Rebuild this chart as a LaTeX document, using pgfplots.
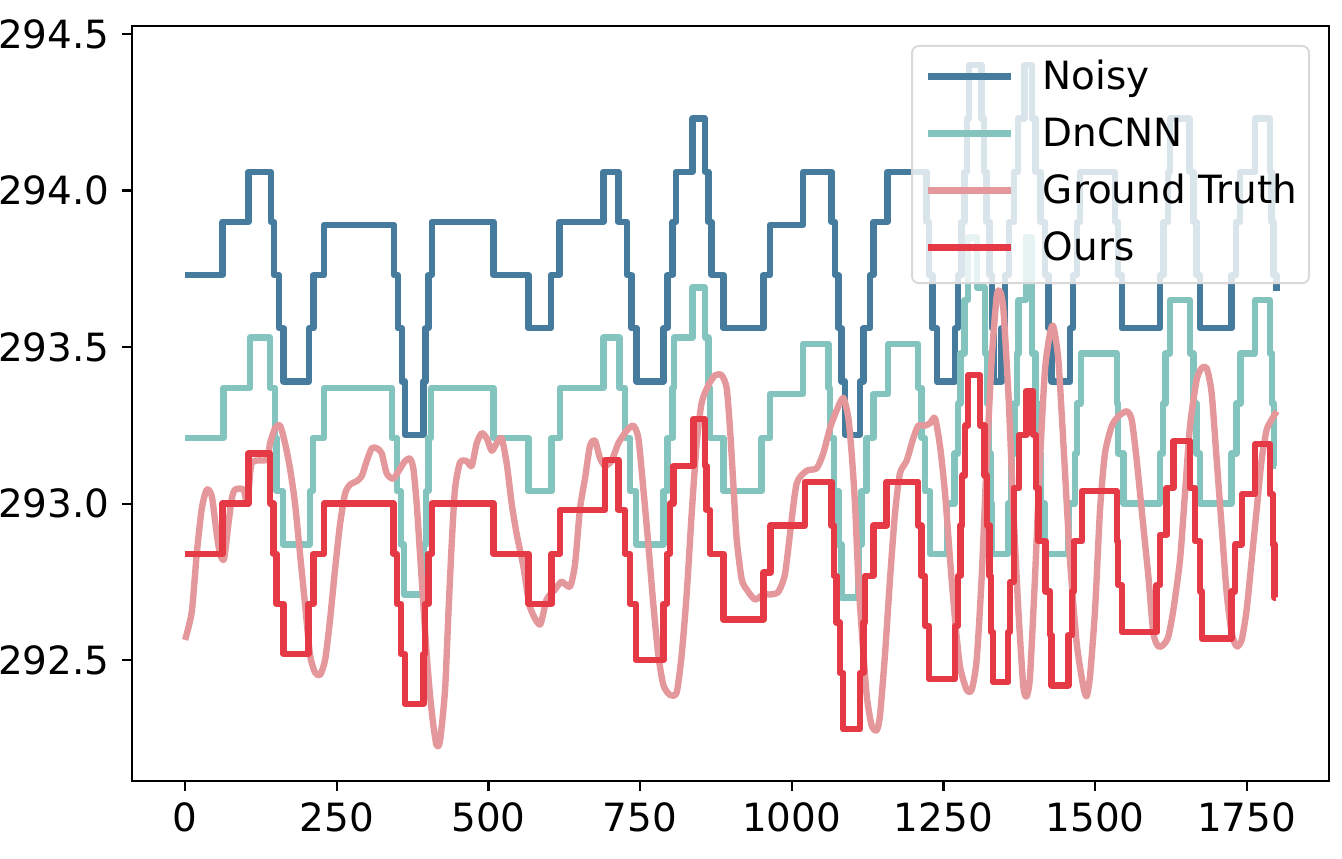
\documentclass[border=0pt]{standalone}
\usepackage{fontspec}
\setmainfont{DejaVu Sans}
\usepackage{pgfplots}
\pgfplotsset{compat=1.18}
\definecolor{cnoisy}{HTML}{457B9D}
\definecolor{cdncnn}{HTML}{83C5BE}
\definecolor{cgt}{HTML}{E5989B}
\definecolor{cours}{HTML}{E63946}
\begin{document}
\begin{tikzpicture}
\begin{axis}[
  scale only axis, width=431.1pt, height=271.7pt,
  xmin=-88, xmax=1886, ymin=292.115, ymax=294.525,
  xtick={0,250,500,750,1000,1250,1500,1750},
  ytick={292.5,293,293.5,294,294.5},
  scaled ticks=false,
  /pgf/number format/assume math mode=true,
  xticklabel style={/pgf/number format/1000 sep={}, anchor=north, inner sep=0pt, text height=10.2pt, text depth=0pt, yshift=-4.5pt},
  yticklabel style={/pgf/number format/.cd, fixed, fixed zerofill, precision=1, 1000 sep={}, /tikz/.cd, anchor=east, inner sep=0pt, xshift=-4.3pt},
  ticklabel style={font=\fontsize{14}{16.5}\selectfont},
  tick align=outside, major tick length=3.5pt,
  xtick pos=bottom, ytick pos=left,
  tick style={black, line width=0.8pt},
  axis line style={black, line width=0.8pt},
  every axis plot/.append style={line width=2.3pt, line join=round},
  legend style={at={(1,1)}, anchor=north east, xshift=-6.9pt, yshift=-6.8pt,
    draw=black!15, line width=0.7pt, rounded corners=2.5pt, fill=white, fill opacity=0.8, draw opacity=1, text opacity=1,
    font=\fontsize{14}{16.5}\selectfont, inner xsep=4.4pt, inner ysep=5.4pt, row sep=7.4pt, column sep=10.2pt,
    nodes={inner sep=0pt, text height=10.2pt, text depth=2.9pt}},
  legend cell align=left,
  legend image code/.code={\draw[#1, line width=2.5pt] (0pt,1pt) -- (30pt,1pt);},
]
\addplot[cnoisy, const plot] table {
0 293.73
62 293.90
104.4 294.06
141.2 293.90
146.7 293.73
155 293.56
162 293.39
204.4 293.56
211.5 293.73
229.1 293.89
344.5 293.73
350.5 293.56
357.1 293.39
362.6 293.22
392.8 293.39
396 293.56
401 293.73
406.6 293.90
508.2 293.73
566 293.56
602.7 293.73
617 293.90
689.5 294.06
714.2 293.90
728 293.73
736.2 293.56
744.4 293.39
788.4 293.56
795 293.73
803.7 293.90
809.2 294.06
836.7 294.23
857 294.06
862.5 293.90
868 293.73
887.3 293.56
953.2 293.73
964.2 293.89
1019 294.06
1065.8 293.90
1071.3 293.73
1076.8 293.56
1082.3 293.39
1087.8 293.22
1112.5 293.39
1118 293.56
1129 293.73
1134.5 293.90
1157.6 294.06
1222.4 293.90
1226 293.73
1232 293.56
1239 293.39
1269 293.56
1274 293.73
1280 293.90
1285 294.06
1289 294.23
1292 294.40
1313 294.23
1317 294.06
1321 293.90
1326 293.73
1330 293.56
1333 293.39
1346 293.56
1352 293.73
1358 293.90
1366 294.06
1373 294.23
1384 294.40
1396 294.23
1402 294.06
1410 293.90
1417 293.73
1423 293.56
1428 293.39
1459 293.56
1464 293.73
1470 293.90
1475 294.06
1533 293.90
1538 293.73
1544 293.56
1607 293.73
1613 293.90
1620 294.06
1624 294.23
1656 294.06
1662 293.90
1667 293.73
1673 293.56
1725 293.73
1732 293.90
1739 294.06
1764 294.23
1788 294.06
1791 293.90
1794 293.73
1799 293.68
};
\addlegendentry{Noisy}
\addplot[cdncnn, const plot] table {
0 293.21
63.2 293.37
107.1 293.53
140 293.37
148.3 293.21
151 293.04
161 292.87
206 293.04
210.4 293.21
229.1 293.37
340.6 293.21
348.9 293.04
355.5 292.87
361 292.71
392.8 292.87
397.2 293.04
401 293.21
405 293.37
508.2 293.21
566 293.04
604.3 293.21
618 293.37
689.5 293.53
715.8 293.37
725.2 293.21
733.4 293.04
743.3 292.87
788.4 293.04
795 293.21
803.7 293.37
806 293.53
836.7 293.69
857 293.53
862.5 293.37
865.3 293.21
887.3 293.04
950.4 293.21
964.2 293.35
1019 293.51
1060.3 293.37
1063 293.21
1069.7 293.04
1076.8 292.87
1082.3 292.70
1109.8 292.87
1115.3 293.04
1123.5 293.21
1134.5 293.35
1159.2 293.51
1208.6 293.37
1214 293.21
1219.6 293.04
1228 292.84
1256 293.00
1268 293.16
1274 293.32
1278 293.48
1285 293.65
1291 293.85
1305 293.69
1318.7 293.48
1322 293.32
1325 293.16
1328 293.00
1330 292.84
1357 293.00
1362 293.16
1367 293.32
1371 293.48
1374 293.65
1386 293.85
1396 293.48
1402 293.32
1405 293.16
1410 293.00
1417 292.84
1456 293.00
1467 293.16
1470 293.32
1477 293.48
1535.7 293.32
1538 293.16
1547 293.00
1607 293.16
1612 293.32
1616 293.48
1624 293.65
1656.5 293.48
1662 293.32
1667 293.16
1673 293.00
1725 293.16
1733 293.32
1740 293.48
1763.7 293.65
1788 293.48
1792 293.32
1795 293.12
1799 293.12
};
\addlegendentry{DnCNN}
\addplot[cgt, smooth, tension=0.4] table {
0 292.565
11 292.654
19.2 292.839
27.5 292.984
35.7 293.045
44 293.024
52.2 292.903
57.7 292.839
64.3 292.823
71.4 292.935
77 293.016
82.4 293.045
96.2 293.045
103 293.0
110 293.13
134.6 293.14
140.1 293.193
148.3 293.241
156.6 293.249
164.8 293.193
173 293.112
181.3 293.0
189.5 292.839
197.8 292.678
206 292.517
214.3 292.461
222.5 292.453
230.8 292.501
239 292.63
247.2 292.79
255.5 292.935
263.7 293.032
272 293.061
283 293.072
291.2 293.088
299.4 293.136
307.7 293.177
315.9 293.177
324.1 293.161
332.4 293.096
343.4 293.08
354.4 293.112
362.6 293.136
370.8 293.144
376.3 293.112
381.8 293.0
387.3 292.839
392.8 292.678
398.3 292.517
403.8 292.388
409.3 292.292
414.8 292.227
420.3 292.243
428.5 292.404
434 292.646
439.5 292.871
445 293.048
453.3 293.132
464.2 293.136
472.5 293.12
480.7 293.193
489 293.225
497.2 293.209
505.4 293.169
513.7 293.193
521.9 293.209
530.2 293.128
538.4 293.0
546.6 292.903
557.6 292.80
568.6 292.67
585 292.614
596 292.694
609.8 292.726
620.8 292.751
634.5 292.735
642.8 292.807
651 292.984
659.2 293.08
667.5 293.185
675.7 293.201
684 293.145
692.2 293.121
703.2 293.137
714.2 293.193
727.9 293.233
738.9 293.249
747.2 293.209
755.4 293.048
763.6 292.871
771.9 292.678
780.1 292.517
788.4 292.421
799.3 292.389
810.3 292.397
818.6 292.517
826.8 292.71
835.1 292.968
843.3 293.193
851.5 293.322
862.5 293.378
873.5 293.41
884.5 293.41
892.7 293.37
898.2 293.241
903.7 293.064
909.2 292.887
917.5 292.759
925.7 292.726
939.4 292.694
953.2 292.71
964.2 292.71
977.9 292.718
988.9 292.775
997.1 292.903
1008.1 293.064
1024.6 293.105
1041.1 293.113
1052.1 293.161
1063 293.241
1074 293.298
1085 293.338
1093.3 293.274
1098.8 293.161
1104.3 293.0
1109.8 292.759
1115.3 292.598
1123.5 292.389
1131.7 292.292
1140 292.276
1145.5 292.324
1153.7 292.517
1162 292.759
1170.2 292.968
1178.4 293.097
1189.4 293.137
1200.4 293.209
1208.6 293.249
1219.6 293.249
1228 293.257
1236.2 293.273
1244.5 293.183
1252.7 293.034
1261 292.821
1269.2 292.63
1277.4 292.48
1288.4 292.406
1296.7 292.406
1304.9 292.502
1313.2 292.768
1321.4 293.14
1329.6 293.46
1337.9 293.662
1343.4 293.678
1348.9 293.62
1357.1 293.353
1365.4 292.98
1373.6 292.66
1381.8 292.416
1387.3 292.385
1392.8 292.449
1401.1 292.768
1409.3 293.14
1417.5 293.428
1425.8 293.545
1431.3 293.566
1439.5 293.46
1447.8 293.193
1458.7 292.821
1469.7 292.555
1480.7 292.416
1486.2 292.385
1491.7 292.449
1500 292.661
1508.2 292.98
1516.4 293.161
1527.4 293.247
1538.4 293.279
1552.1 293.295
1560.4 293.268
1568.6 293.14
1579.6 292.927
1587.9 292.768
1596.1 292.587
1604.3 292.544
1612.6 292.549
1620.8 292.576
1629.1 292.661
1640.1 292.821
1648.3 293.034
1656.5 293.247
1667.5 293.396
1675.8 293.433
1684 293.433
1692.2 293.353
1700.5 293.14
1708.7 292.927
1717 292.714
1725.2 292.587
1733.4 292.544
1741.7 292.565
1749.9 292.661
1758.2 292.821
1766.4 292.98
1774.6 293.14
1782.9 293.236
1791.1 293.268
1799.4 293.295
};
\addlegendentry{Ground Truth}
\addplot[cours, const plot] table {
0 292.84
62 293.00
104.4 293.16
140.1 293.00
145.6 292.84
151 292.68
162 292.52
203.3 292.68
211.5 292.84
229.1 293.00
343.4 292.84
348.9 292.68
355.5 292.52
362.6 292.36
392.8 292.52
395.6 292.68
401 292.84
406.6 293.00
508.2 292.84
566 292.68
604.3 292.84
618 292.98
692.2 293.14
714.2 292.98
725.2 292.84
733.4 292.68
743.3 292.50
788.4 292.68
793.9 292.84
799.3 293.00
804.8 293.12
837.8 293.27
857 293.12
859.8 292.98
865.3 292.84
887.3 292.63
953.2 292.78
965.3 292.93
1021.9 293.07
1065.8 292.93
1069.7 292.77
1074 292.62
1079.5 292.46
1085 292.28
1112.5 292.46
1118 292.62
1120.7 292.77
1134.5 292.93
1156.5 293.07
1208.6 292.93
1214 292.77
1220 292.61
1226 292.44
1269 292.61
1274 292.77
1278 292.93
1281 293.09
1286 293.25
1291 293.41
1310.4 293.25
1318 293.09
1322 292.93
1326 292.77
1328 292.59
1332 292.43
1357 292.59
1360 292.75
1366 293.05
1375 293.22
1387 293.36
1398 293.22
1403 293.05
1407 292.88
1418 292.72
1426 292.58
1428 292.42
1456 292.58
1462 292.72
1465 292.88
1478 293.04
1535.7 292.88
1538 292.74
1544 292.59
1601.6 292.74
1607 292.90
1618 293.05
1629 293.20
1656.5 293.05
1665 292.88
1673 292.72
1676 292.57
1725 292.72
1731 292.87
1742 293.03
1764 293.19
1788 293.03
1793 292.87
1796 292.70
1799 292.70
};
\addlegendentry{Ours}
\end{axis}
\pgfresetboundingbox
\path (-47.41pt,-28.1pt) rectangle (435.7pt,281.1pt);
\end{tikzpicture}
\end{document}
